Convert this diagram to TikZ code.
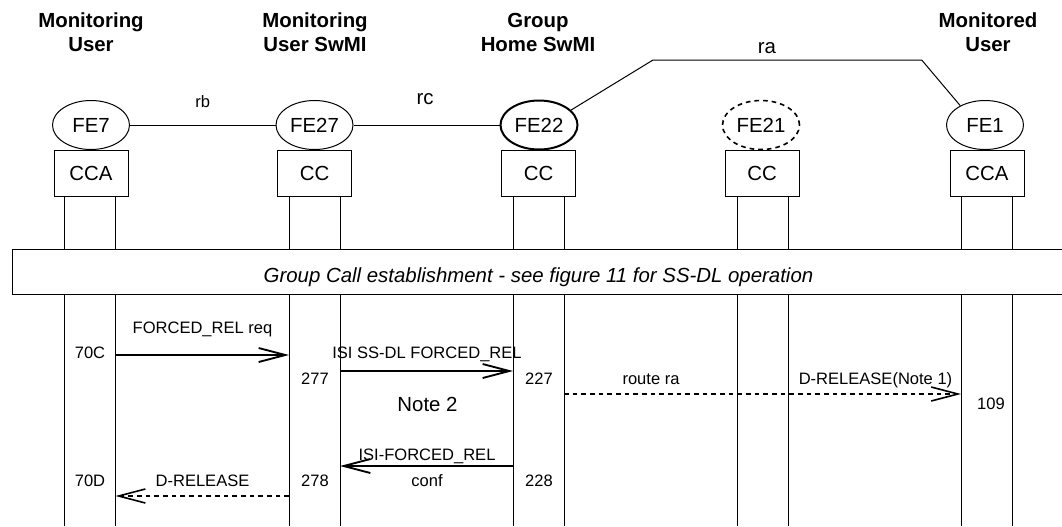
\documentclass[tikz,border=0pt]{standalone}
\usepackage{fontspec}
\setmainfont{Liberation Sans}
\usetikzlibrary{arrows.meta,shapes.geometric}
\tikzset{
  big/.style={font=\fontsize{15.3}{18.3}\selectfont},
  small/.style={font=\fontsize{12.4}{14.5}\selectfont},
  hdr/.style={align=center,inner sep=0pt,anchor=base,font=\fontsize{15.3}{18.3}\selectfont\bfseries},
  fe/.style={ellipse,draw,line width=0.75pt,minimum width=57.75pt,minimum height=36.75pt,inner sep=0pt,big},
  ccbox/.style={rectangle,draw,line width=0.75pt,minimum width=55.5pt,minimum height=34.5pt,inner sep=0pt,big},
  lbl/.style={inner sep=0pt,anchor=base,small},
  life/.style={line width=0.75pt},
  msg/.style={line width=1.4pt,-{Straight Barb[length=20pt,width=10.5pt]}},
  dmsg/.style={msg,line width=1.2pt,dash pattern=on 3.5pt off 3pt}
}
\begin{document}
\begin{tikzpicture}[x=0.75pt,y=-0.75pt]
    \useasboundingbox (0,0) rectangle (1062,526);
    \node[hdr] (hMU) at (91,51.7) {Monitoring\\User};
    \node[hdr] (hMS) at (315,51.7) {Monitoring\\User SwMI};
    \node[hdr] (hGH) at (538,51.7) {Group\\Home SwMI};
    \node[hdr] (hMD) at (988,51.7) {Monitored\\User};

    \node[fe] (fe7) at (91,125) {FE7};
    \node[fe] (fe27) at (314.5,125) {FE27};
    \node[fe,line width=1.5pt] (fe22) at (539,125) {FE22};
    \node[fe,line width=1.2pt,dash pattern=on 3.5pt off 3pt] (fe21) at (761,125) {FE21};
    \node[fe] (fe1) at (985,125) {FE1};

    \node[ccbox] (cc7) at (91,173) {CCA};
    \node[ccbox] (cc27) at (314.5,173) {CC};
    \node[ccbox] (cc22) at (538.5,173) {CC};
    \node[ccbox] (cc21) at (762,173) {CC};
    \node[ccbox] (cc1) at (987,173) {CCA};

    \draw[line width=0.75pt] (fe7) -- (fe27) node[lbl,pos=0.5,yshift=13.5pt] (rb) {rb};
    \draw[line width=0.75pt] (fe27) -- (fe22);
    \node[lbl,big] (rc) at (425,104) {rc};
    \coordinate (raA) at (653,60);
    \coordinate (raB) at (921.7,60);
    \draw[line width=0.75pt] (fe22.25) -- (raA) -- (raB) -- (fe1.142);
    \node[lbl,big] (ra) at (767,53.3) {ra};

    \foreach \n/\x in {1/90,2/314.5,3/538.5,4/762.5,5/986.5}{
        \coordinate (L\n) at (\x-25.5,196);
        \coordinate (R\n) at (\x+25.5,196);
        \draw[life] (L\n) -- (L\n |- 0,526);
        \draw[life] (R\n) -- (R\n |- 0,526);
    }

    \node[draw,fill=white,line width=0.75pt,anchor=north west,minimum width=800pt,minimum height=33.75pt] (band) at (12,249) {};
    \node[lbl,big,font=\fontsize{15.3}{18.3}\selectfont\itshape] (bandtxt) at (538.5,282.7)
        {Group Call establishment - see figure 11 for SS-DL operation};

    \node[lbl] (n70C) at (90,358.3) {70C};
    \draw[msg] (R1 |- 0,355) -- (L2 |- 0,355);
    \node[lbl] (m1) at (202.5,333.3) {FORCED\_REL req};

    \draw[msg] (R2 |- 0,371) -- (L3 |- 0,371);
    \node[lbl] (m2) at (427,358.3) {ISI SS-DL FORCED\_REL};
    \node[lbl] (n277) at (315,384) {277};
    \node[lbl] (n227) at (539,384) {227};

    \draw[dmsg] (R3 |- 0,394) -- (L5 |- 0,394);
    \node[lbl] (m3a) at (651,384) {route ra};
    \node[lbl] (m3b) at (875.5,384) {D-RELEASE(Note 1)};
    \node[lbl] (n109) at (991,409) {109};

    \node[lbl,big] (note2) at (427.5,411.7) {Note 2};

    \draw[msg] (L3 |- 0,466) -- (R2 |- 0,466);
    \node[lbl] (m4a) at (427,460.7) {ISI-FORCED\_REL};
    \node[lbl] (m4b) at (427,486.7) {conf};
    \node[lbl] (n278) at (315,486.7) {278};
    \node[lbl] (n228) at (539,486.7) {228};

    \draw[dmsg] (L2 |- 0,496) -- (R1 |- 0,496);
    \node[lbl] (m5) at (202.5,486.7) {D-RELEASE};
    \node[lbl] (n70D) at (90,486.7) {70D};
\end{tikzpicture}
\end{document}
